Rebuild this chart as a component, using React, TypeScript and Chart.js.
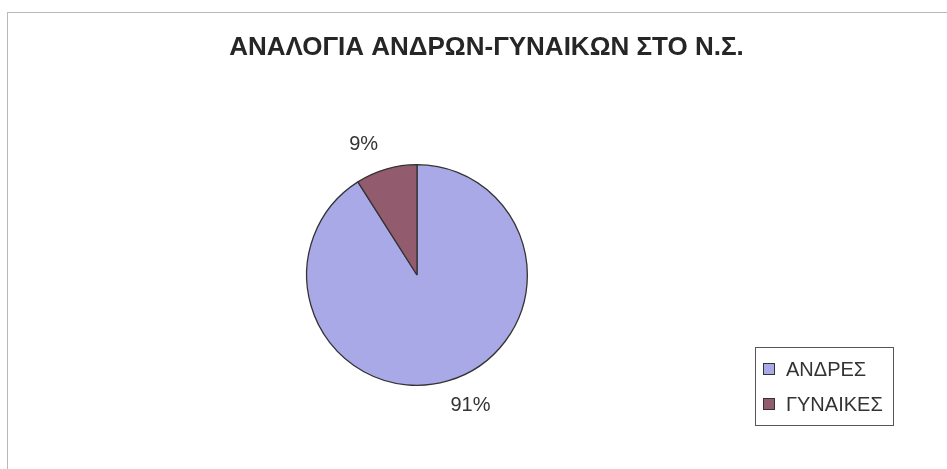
import React, { useEffect, useRef } from "react";
import { Chart, registerables } from "chart.js";

Chart.register(...registerables);

const TITLE = "ΑΝΑΛΟΓΙΑ ΑΝΔΡΩΝ-ΓΥΝΑΙΚΩΝ ΣΤΟ Ν.Σ.";
const categories = ["ΑΝΔΡΕΣ", "ΓΥΝΑΙΚΕΣ"];
const shares = [91, 9];
const percentLabels = ["91%", "9%"];
const sliceColors = ["#aaa9e8", "#935b6e"];

const FONT = "'Liberation Sans', Arial, sans-serif";

const decorPlugin = {
  id: "decor",
  afterDraw(chart: any) {
    const ctx = chart.ctx as CanvasRenderingContext2D;
    const w = chart.width;
    ctx.save();
    // Title
    ctx.fillStyle = "#262626";
    ctx.font = `bold 26px ${FONT}`;
    ctx.textAlign = "center";
    ctx.textBaseline = "alphabetic";
    ctx.fillText(TITLE, w / 2, 42);

    // Percent labels
    const meta = chart.getDatasetMeta(0);
    ctx.font = `20px ${FONT}`;
    ctx.fillStyle = "#333333";
    ctx.textBaseline = "middle";
    meta.data.forEach((arc: any, i: number) => {
      const p = arc.getProps(["x", "y", "startAngle", "endAngle", "outerRadius"], true);
      const mid = (p.startAngle + p.endAngle) / 2 - (6 * Math.PI) / 180;
      const d = p.outerRadius + 31;
      ctx.fillText(percentLabels[i], p.x + d * Math.cos(mid), p.y + d * Math.sin(mid));
    });

    // Legend
    ctx.strokeStyle = "#555555";
    ctx.lineWidth = 1;
    ctx.strokeRect(747.5, 334.5, 138, 78);
    ctx.textAlign = "left";
    categories.forEach((c, i) => {
      const y = 350 + i * 35;
      ctx.fillStyle = sliceColors[i];
      ctx.fillRect(755, y, 12, 12);
      ctx.strokeStyle = "#333333";
      ctx.strokeRect(755.5, y + 0.5, 11, 11);
      ctx.fillStyle = "#333333";
      ctx.font = `20px ${FONT}`;
      ctx.fillText(c, 778, y + 7);
    });
    ctx.restore();
  },
};

export default function App() {
  const ref = useRef<HTMLCanvasElement>(null);
  useEffect(() => {
    if (!ref.current) return;
    const chart = new Chart(ref.current, {
      type: "pie",
      data: {
        labels: categories,
        datasets: [
          {
            data: shares,
            backgroundColor: sliceColors,
            borderColor: "#333333",
            borderWidth: 1.3,
            hoverOffset: 0,
          },
        ],
      },
      options: {
        animation: false,
        responsive: false,
        events: [],
        layout: { padding: { top: 151, bottom: 95, left: 0, right: 139 } },
        plugins: {
          legend: { display: false },
          title: { display: false },
          tooltip: { enabled: false },
        },
      },
      plugins: [decorPlugin],
    });
    return () => chart.destroy();
  }, []);
  return (
    <div
      style={{
        position: "fixed",
        left: 7,
        top: 12,
        width: 959,
        height: 470,
        border: "1px solid #b8b8b8",
        boxSizing: "border-box",
        background: "#ffffff",
      }}
    >
      <canvas ref={ref} width={957} height={468} style={{ display: "block" }} />
    </div>
  );
}
